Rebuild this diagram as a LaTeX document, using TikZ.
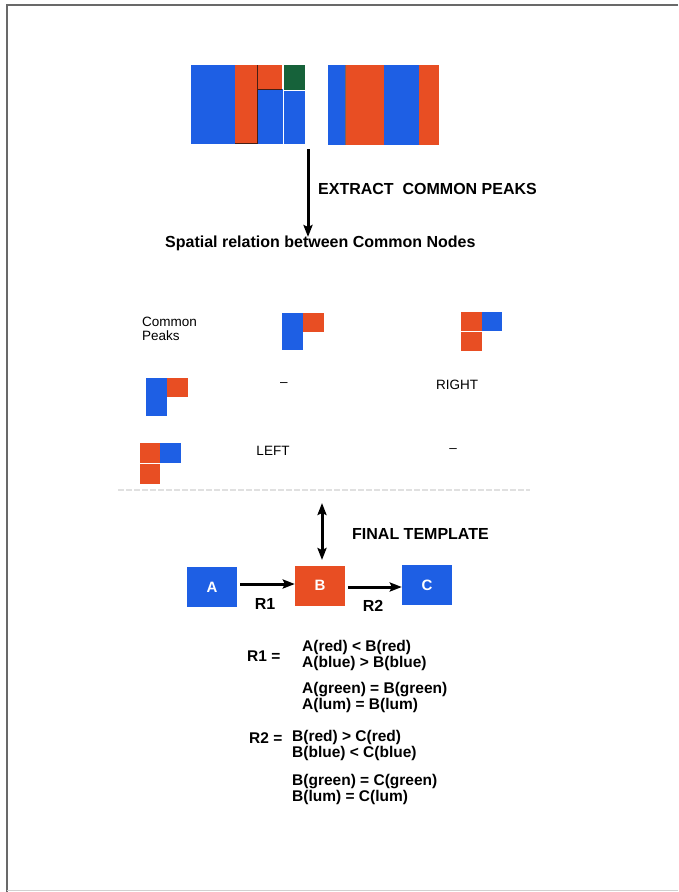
\documentclass[tikz,border=0pt]{standalone}
\usepackage{fontspec}
\setmainfont{Liberation Sans}
\usetikzlibrary{arrows.meta}
\definecolor{pkblue}{RGB}{30,95,228}
\definecolor{pkred}{RGB}{232,78,35}
\definecolor{pkgreen}{RGB}{22,98,58}
\definecolor{pkedge}{RGB}{70,30,20}
\definecolor{framegray}{RGB}{105,105,105}
\begin{document}
\begin{tikzpicture}[x=1pt,y=-1pt,
  boldtxt/.style={font=\fontsize{16}{18}\selectfont\bfseries, inner sep=0pt},
  plaintxt/.style={font=\fontsize{13.5}{13.5}\selectfont, inner sep=0pt},
  eqtxt/.style={font=\fontsize{15.5}{15.2}\selectfont\bfseries, inner sep=0pt,
    anchor=west, align=left},
  tmplbox/.style={minimum width=50pt, minimum height=40pt, inner sep=0pt,
    text=white, font=\fontsize{15}{15}\selectfont\bfseries},
  flowarrow/.style={line width=3pt, -{Stealth[length=12pt,width=9pt,inset=2pt]}},
  bothwayarrow/.style={line width=3pt, {Stealth[length=12pt,width=9pt,inset=2pt]}-{Stealth[length=12pt,width=9pt,inset=2pt]}}
]
\useasboundingbox (0,0) rectangle (678,892);

% page frame
\draw[framegray, line width=1.6pt] (678,5) -- (7,5) -- (7,892);
\draw[black!18, line width=1pt] (7,890) -- (678,890);

% first segmented image
\fill[pkblue] (191,65) rectangle (235,144);
\fill[pkred]  (235,65) rectangle (257,143);
\fill[pkred]  (257,65) rectangle (282,89);
\fill[pkblue] (257,89) rectangle (283,144);
\fill[pkgreen] (283,65) rectangle (305,90);
\fill[pkblue] (283,90) rectangle (305,144);
\draw[pkedge, line width=0.9pt] (257,65) -- (257,143) -- (235,143);
\draw[pkedge, line width=0.9pt] (257,89) -- (282,89);
\draw[white, line width=0.8pt] (283,65) -- (283,144);
\draw[white, line width=0.8pt] (283,90) -- (305,90);

% second segmented image
\fill[pkblue] (328,65) rectangle (345,145);
\fill[pkred]  (345,65) rectangle (384,145);
\fill[pkblue] (384,65) rectangle (419,145);
\fill[pkred]  (419,65) rectangle (439,145);
\draw[pkedge!70, line width=0.6pt] (345,65) -- (345,145);

% extraction step
\coordinate (extractTop) at (308,149);
\coordinate (extractEnd) at (308,237);
\draw[flowarrow] (extractTop) -- (extractEnd);
\node[boldtxt, anchor=west] (extract) at (318,189) {EXTRACT\ \ COMMON PEAKS};
\node[boldtxt, anchor=west] (spatial) at (165,243) {Spatial relation between Common Nodes};

% relation table
\node[plaintxt, anchor=west, align=left,
  font=\fontsize{13.5}{14}\selectfont] (cornerlbl) at (142,329)
  {Common\\Peaks};
% column header: peak pair one
\fill[pkblue] (282,313) rectangle (303,350);
\fill[pkred]  (303,313) rectangle (324,332);
% column header: peak pair two
\fill[pkred]  (461,312) rectangle (482,331);
\fill[pkblue] (482,312) rectangle (502,331);
\fill[pkred]  (461,332) rectangle (482,351);
% row header: peak pair one
\fill[pkblue] (146,378) rectangle (167,416);
\fill[pkred]  (167,378) rectangle (188,397);
% row header: peak pair two
\fill[pkred]  (140,443) rectangle (160,463);
\fill[pkblue] (160,443) rectangle (181,463);
\fill[pkred]  (140,464) rectangle (160,484);

\node[plaintxt] (cellA) at (284,385) {--};
\node[plaintxt] (cellB) at (457,385) {RIGHT};
\node[plaintxt] (cellC) at (273,451) {LEFT};
\node[plaintxt] (cellD) at (453,451) {--};

\draw[black!12, line width=1.2pt, dash pattern=on 6pt off 2pt] (118,490) -- (530,490);

% final template
\node[tmplbox, fill=pkblue] (A) at (212,587) {A};
\node[tmplbox, fill=pkred]  (B) at (320,585.5) {B};
\node[tmplbox, fill=pkblue] (C) at (427,585) {C};
\coordinate (tmplTop) at (322,503);
\coordinate (tmplEnd) at (322,560);
\draw[bothwayarrow] (tmplTop) -- (tmplEnd);
\node[boldtxt, anchor=west] (final) at (352,534) {FINAL TEMPLATE};

\draw[flowarrow] (A.east |- 0,584) ++(3,0) -- (B.west |- 0,584);
\draw[flowarrow] (B.east |- 0,587) ++(3,0) -- (C.west |- 0,587);
\node[boldtxt] (r1lbl) at (265,604) {R1};
\node[boldtxt] (r2lbl) at (373,606) {R2};

% relation definitions
\node[eqtxt] (r1def) at (247,656) {R1 =};
\node[eqtxt] (e12) at (302,655.5) {A(red) < B(red)\\A(blue) > B(blue)};
\node[eqtxt] (e34) at (302,697.5) {A(green) = B(green)\\A(lum) = B(lum)};

\node[eqtxt] (r2def) at (249,738) {R2 =};
\node[eqtxt] (e56) at (292,745.5) {B(red) > C(red)\\B(blue) < C(blue)};
\node[eqtxt] (e78) at (292,789.5) {B(green) = C(green)\\B(lum) = C(lum)};
\end{tikzpicture}
\end{document}
